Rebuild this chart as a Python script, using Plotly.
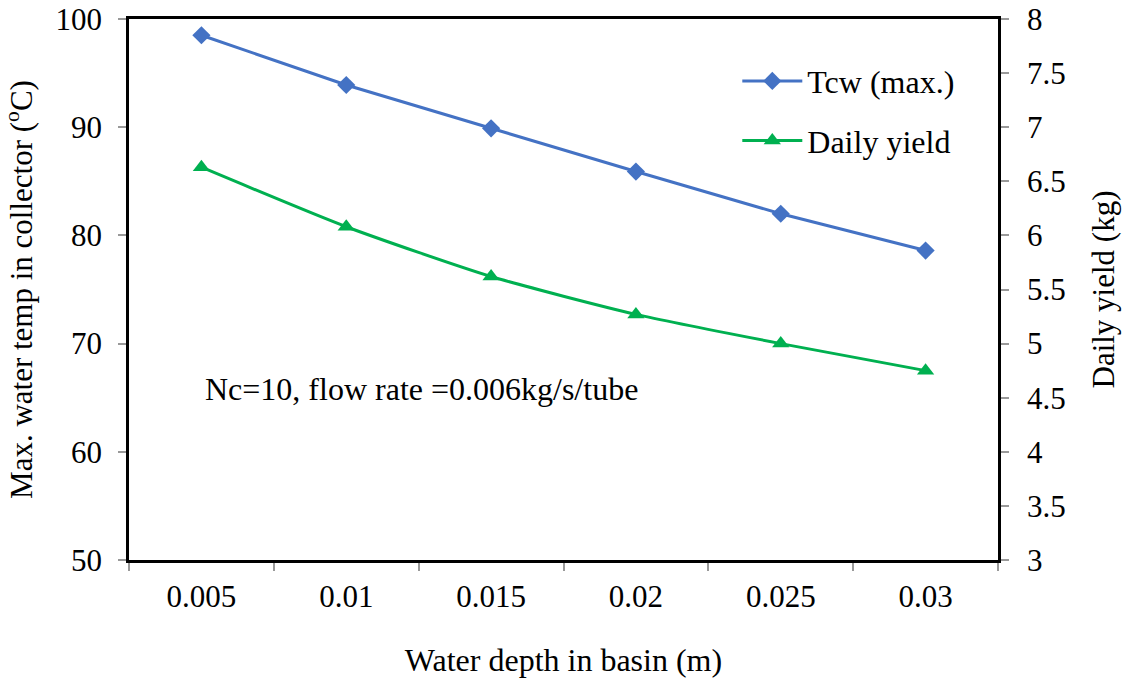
import plotly.graph_objects as go

# Water depth in basin (m)
depths = ["0.005", "0.01", "0.015", "0.02", "0.025", "0.03"]
# Maximum collector water temperature (°C)
tcw_max = [98.5, 93.9, 89.9, 85.9, 82.0, 78.6]
# Daily distillate yield (kg)
daily_yield = [6.63, 6.08, 5.62, 5.27, 5.00, 4.75]

font_family = "Liberation Serif, Times New Roman, serif"
fs = 31
blue = "#4472C4"
green = "#00B050"

fig = go.Figure()
fig.add_trace(go.Scatter(
    x=depths, y=tcw_max, name="Tcw (max.)", mode="lines+markers",
    line=dict(color=blue, width=3),
    marker=dict(symbol="diamond", size=14, color=blue),
    legendgroup="a",
))
fig.add_trace(go.Scatter(
    x=depths, y=daily_yield, name="Daily yield", mode="lines+markers",
    line=dict(color=green, width=3, shape="spline", smoothing=0.6),
    marker=dict(symbol="triangle-up", size=15, color=green),
    yaxis="y2", legendgroup="b",
))

fig.add_annotation(
    x=0.085, y=0.316, xref="paper", yref="paper", xanchor="left", yanchor="middle",
    text="Nc=10, flow rate =0.006kg/s/tube", showarrow=False,
    font=dict(family=font_family, size=32, color="black"),
)

tick_style = dict(ticks="outside", ticklen=8, tickcolor="#999999", tickwidth=1.5)

fig.update_layout(
    width=1124, height=680,
    margin=dict(l=129, r=126, t=19, b=120, autoexpand=False),
    paper_bgcolor="white", plot_bgcolor="white",
    font=dict(family=font_family, size=fs, color="black"),
    showlegend=True,
    legend=dict(
        x=0.70, y=0.936, xanchor="left", yanchor="top",
        bgcolor="rgba(0,0,0,0)", font=dict(size=32),
        tracegroupgap=15, itemwidth=60,
    ),
    xaxis=dict(
        type="category", tickson="boundaries",
        range=[-0.5, 5.5], automargin=False,
        showline=True, linecolor="black", linewidth=2.5, mirror=True,
        showgrid=False, zeroline=False, ticklabelstandoff=7,
        title=dict(text="Water depth in basin (m)", standoff=36, font=dict(size=32)),
        tickfont=dict(size=fs), **tick_style,
    ),
    yaxis=dict(
        range=[50, 100], dtick=10, automargin=False,
        showline=True, linecolor="black", linewidth=2.5, mirror=True,
        showgrid=False, zeroline=False, ticklabelstandoff=10,
        title=dict(text="Max. water temp in collector (<sup>o</sup>C)", standoff=18, font=dict(size=fs)),
        tickfont=dict(size=fs), **tick_style,
    ),
    yaxis2=dict(
        range=[3, 8], dtick=0.5, overlaying="y", side="right", automargin=False,
        showline=True, linecolor="black", linewidth=2.5,
        showgrid=False, zeroline=False, ticklabelstandoff=12,
        title=dict(text="Daily yield (kg)", standoff=28, font=dict(size=fs)),
        tickfont=dict(size=fs), **tick_style,
    ),
)

fig.write_html("out.html")
